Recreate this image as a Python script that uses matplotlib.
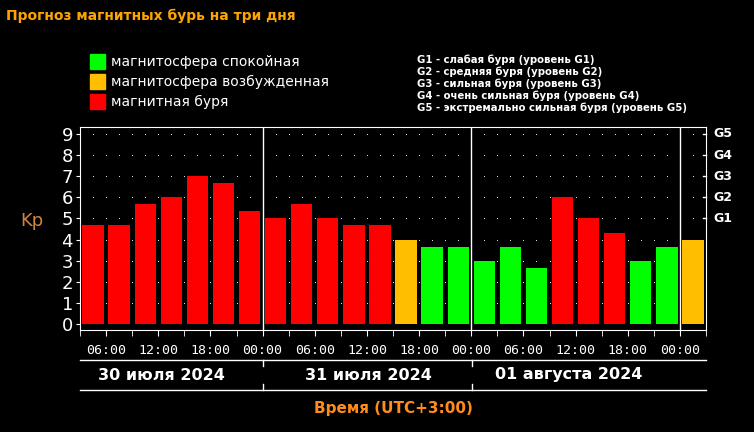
import matplotlib
matplotlib.use("Agg")
import matplotlib.pyplot as plt
import numpy as np

kp = [4.67, 4.67, 5.67, 6.0, 7.0, 6.67, 5.33,
      5.0, 5.67, 5.0, 4.67, 4.67, 4.0, 3.67, 3.67,
      3.0, 3.67, 2.67, 6.0, 5.0, 4.33, 3.0, 3.67,
      4.0]
colors = ['r'] * 7 + ['r'] * 5 + ['y', 'g', 'g'] + ['g', 'g', 'g', 'r', 'r', 'r', 'g', 'g'] + ['y']
cmap = {'r': '#ff0000', 'y': '#ffbf00', 'g': '#00ff00'}
tick_labels = ["06:00", "12:00", "18:00", "00:00"] * 3
days = ["30 июля 2024", "31 июля 2024", "01 августа 2024"]
glabels = ["G1", "G2", "G3", "G4", "G5"]
legend_items = ["магнитосфера спокойная", "магнитосфера возбужденная", "магнитная буря"]
g_desc = ["G1 - слабая буря (уровень G1)", "G2 - средняя буря (уровень G2)",
          "G3 - сильная буря (уровень G3)", "G4 - очень сильная буря (уровень G4)",
          "G5 - экстремально сильная буря (уровень G5)"]

W, H = 754, 432
fig = plt.figure(figsize=(W / 100, H / 100), dpi=100, facecolor='black')
def fx(p): return p / W
def fy(p): return 1 - p / H

ax = fig.add_axes([fx(80), fy(330), fx(706) - fx(80), fy(127) - fy(330)])
ax.set_facecolor('black')
x = np.arange(len(kp)) * 3 + 1.5
ax.bar(x, kp, width=2.45, bottom=0, color=[cmap[c] for c in colors])
ax.set_xlim(0, 72)
ax.set_ylim(-0.28, 9.33)
# dotted grid
for lvl in range(1, 10):
    gx = np.arange(1.5, 72, 1.5)
    ax.scatter(gx, [lvl] * len(gx), s=0.6, color='white', zorder=0, linewidths=0)
for d in (21, 45, 69):
    ax.axvline(d, color='white', lw=1)
for s in ax.spines.values():
    s.set_color('white')
ax.set_yticks(range(10))
ax.set_yticklabels([str(i) for i in range(10)], color='white', fontsize=13)
ax.tick_params(axis='y', colors='white', length=3, pad=2)
ax.set_xticks(np.arange(3, 72, 6))
ax.set_xticklabels(tick_labels, color='white', fontsize=9.5, family='DejaVu Sans Mono')
ax.set_xticks(np.arange(0, 73, 3), minor=True)
ax.tick_params(axis='x', which='both', colors='white', length=4, pad=6)
for i, g in enumerate(glabels):
    ax.text(72.9, 5 + i, g, color='white', fontsize=9, fontweight='bold', va='center', ha='left')
    ax.plot([71.6, 72], [5 + i, 5 + i], color='white', lw=1, clip_on=False)
ax.text(-5.5, 4.9, "Kp", color='#d2853f', fontsize=13, ha='center', va='center')

# date band
for yy in (360, 390):
    fig.add_artist(plt.Line2D([fx(80), fx(706)], [fy(yy), fy(yy)], color='white', lw=1))
for xx in (263, 472):
    fig.add_artist(plt.Line2D([fx(xx), fx(xx)], [fy(360), fy(366)], color='white', lw=1))
    fig.add_artist(plt.Line2D([fx(xx), fx(xx)], [fy(384), fy(390)], color='white', lw=1))
for cx, d in zip((161, 368, 569), days):
    fig.text(fx(cx), fy(375), d, color='white', fontsize=11.5, fontweight='bold', ha='center', va='center')
fig.text(fx(393), fy(409), "Время (UTC+3:00)", color='#ff8c1a', fontsize=11, fontweight='bold', ha='center', va='center')

fig.text(fx(6), fy(16), "Прогноз магнитных бурь на три дня", color='#ffa500', fontsize=10, fontweight='bold', va='center')
for i, (t, c) in enumerate(zip(legend_items, ['g', 'y', 'r'])):
    yc = 62 + i * 20
    fig.add_artist(plt.Rectangle((fx(90), fy(yc + 7)), fx(15), fy(yc - 8) - fy(yc + 7), color=cmap[c]))
    fig.text(fx(111), fy(yc), t, color='white', fontsize=10, va='center')
for i, t in enumerate(g_desc):
    fig.text(fx(417), fy(60 + i * 12), t, color='white', fontsize=7.3, fontweight='bold', va='center')

fig.savefig("out.png", dpi=100, facecolor='black')
